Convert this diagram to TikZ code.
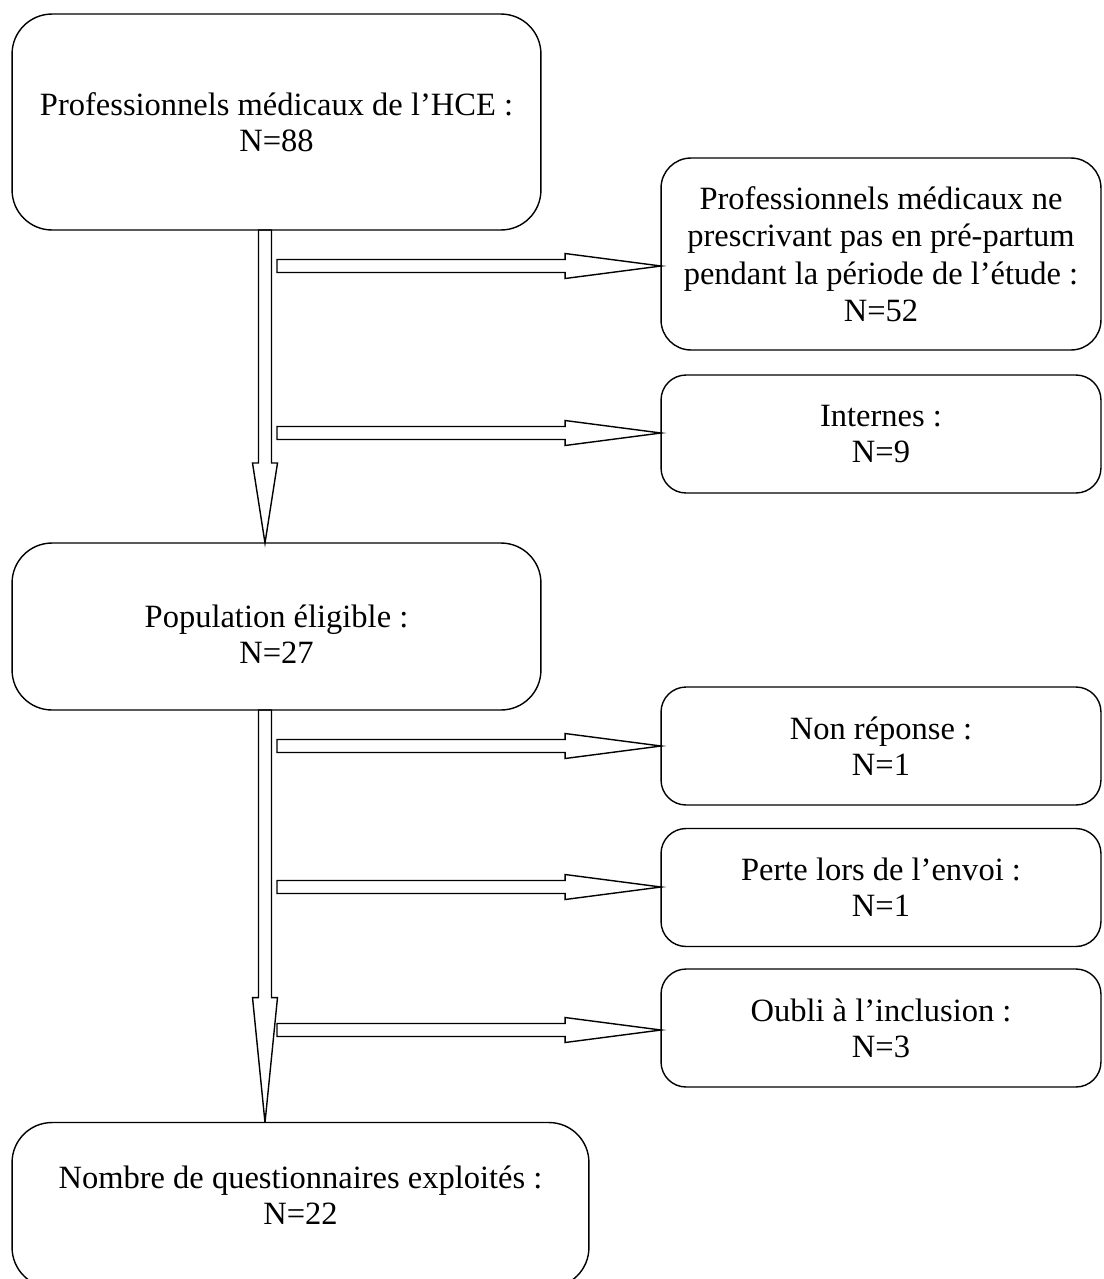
\documentclass[tikz,border=0pt]{standalone}
\usepackage{fontspec}
\setmainfont{Liberation Serif}
\usetikzlibrary{calc}

\begin{document}
\begin{tikzpicture}[
        x=0.02cm, y=-0.02cm,
        every node/.style={draw, rounded corners=0.5cm, align=center, inner sep=0pt, outer sep=0pt,
            line width=0.8pt, font=\fontsize{18.5}{20.5}\selectfont},
        big/.style={rounded corners=0.8cm, minimum width=10.58cm},
        small/.style={minimum width=8.8cm, minimum height=2.36cm},
        hollow/.style={line width=0.8pt, line join=miter, to path={
            ($(\tikztostart)!0.13cm!90:(\tikztotarget)$)
            -- ($(\tikztotarget)!#1!(\tikztostart)!0.13cm!-90:(\tikztostart)$)
            -- ($(\tikztotarget)!#1!(\tikztostart)!0.25cm!-90:(\tikztostart)$)
            -- (\tikztotarget)
            -- ($(\tikztotarget)!#1!(\tikztostart)!0.25cm!90:(\tikztostart)$)
            -- ($(\tikztotarget)!#1!(\tikztostart)!0.13cm!90:(\tikztostart)$)
            -- ($(\tikztostart)!0.13cm!-90:(\tikztotarget)$)
            -- cycle}},
    ]
    \useasboundingbox (0,0) rectangle (1104,1279);

    \node[big, minimum height=4.32cm](hce) at (276.5,122) {Professionnels médicaux de l’HCE :\\N=88};
    \node[minimum width=8.8cm, minimum height=3.84cm, rounded corners=0.6cm,
        font=\fontsize{18.5}{21.3}\selectfont](presc) at (881,254)
        {Professionnels médicaux ne\\prescrivant pas en pré-partum\\pendant la période de l’étude :\\N=52};
    \node[small](int) at (881,434) {Internes :\\N=9};
    \node[big, minimum height=3.34cm, text height=42pt](elig) at (276.5,626.5) {Population éligible :\\N=27};
    \node[small](nonrep) at (881,746) {Non réponse :\\N=1};
    \node[small](perte) at (881,887.5) {Perte lors de l’envoi :\\N=1};
    \node[small](oubli) at (881,1028) {Oubli à l’inclusion :\\N=3};
    \node[big, minimum width=11.54cm, minimum height=3.3cm, text depth=11pt](expl) at (300.5,1205)
        {Nombre de questionnaires exploités :\\N=22};

    % vertical flow
    \coordinate (v1) at ([xshift=-0.23cm]hce.south);
    \coordinate (v2) at (elig.south -| v1);
    \coordinate (w1) at (elig.north -| v1);
    \coordinate (w2) at (expl.north -| v1);
    \draw[hollow=1.6cm] (v1) to (w1);
    \draw[hollow=2.5cm] (v2) to (w2);

    % exclusions
    \coordinate (h1) at (277,266);
    \coordinate (h2) at (277,433);
    \coordinate (h3) at (277,746);
    \coordinate (h4) at (277,887);
    \coordinate (h5) at (277,1030);
    \coordinate (e1) at (presc.west |- h1);
    \coordinate (e2) at (int.west |- h2);
    \coordinate (e3) at (nonrep.west |- h3);
    \coordinate (e4) at (perte.west |- h4);
    \coordinate (e5) at (oubli.west |- h5);
    \foreach \i in {1,...,5}
        \draw[hollow=1.92cm] (h\i) to (e\i);
\end{tikzpicture}
\end{document}
